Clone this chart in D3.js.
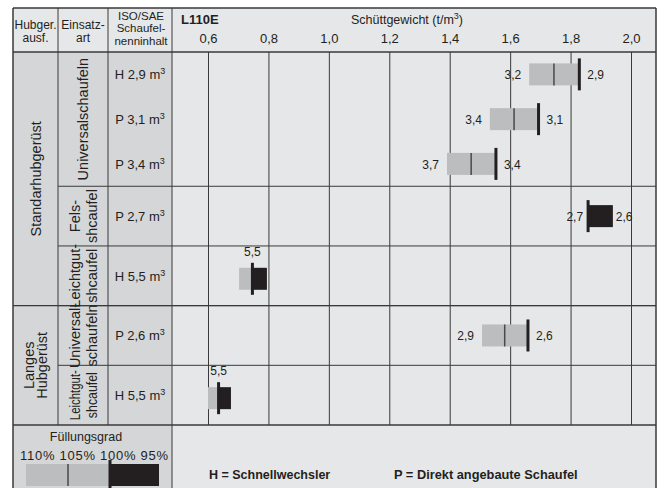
<!DOCTYPE html>
<html>
<head>
<meta charset="utf-8">
<script src="https://cdn.jsdelivr.net/npm/d3@7"></script>
<style>
  body { margin: 0; background: #fff; }
  text { font-family: "Liberation Sans", Arial, Helvetica, sans-serif; fill: #231f20; }
</style>
</head>
<body>
<div class="canvas"></div>
<script>
// bucket rows, top to bottom
const bucketTypes = ['H', 'P', 'P', 'P', 'H', 'P', 'H'];
const bucketSizes = ['2,9', '3,1', '3,4', '2,7', '5,5', '2,6', '5,5'];
// material density (t/m3) at each fill factor, null = not drawn
const fill110 = [1.663, 1.533, 1.391, null, 0.703, 1.507, 0.600];
const fill105 = [1.745, 1.613, 1.471, null, null, 1.582, null];
const fill100 = [1.829, 1.694, 1.553, 1.858, 0.747, 1.659, 0.635];
const fill95  = [null, null, null, 1.940, 0.795, null, 0.676];
// bucket volumes printed beside the bars
const leftLabels  = ['3,2', '3,4', '3,7', '2,7', null, '2,9', null];
const rightLabels = ['2,9', '3,1', '3,4', '2,6', null, '2,6', null];
const topLabels   = [null, null, null, null, '5,5', null, '5,5'];
// relative row heights
const rowSizes = [0.75, 0.75, 0.75, 1, 1, 1, 1];
// x ticks
const tickValues = [0.6, 0.8, 1.0, 1.2, 1.4, 1.6, 1.8, 2.0];
// legend
const fillSteps = [110, 105, 100, 95];
const frameGroups = [
  {lines: ['Standarhubgerüst'], from: 0, to: 4},
  {lines: ['Langes', 'Hubgerüst'], from: 5, to: 6}
];
const toolGroups = [
  {lines: ['Universalschaufeln'], from: 0, to: 2},
  {lines: ['Fels-', 'shcaufel'], from: 3, to: 3},
  {lines: ['Leichtgut-', 'shcaufel'], from: 4, to: 4},
  {lines: ['Universal-', 'schaufeln'], from: 5, to: 5},
  {lines: ['Leichtgut-', 'shcaufel'], from: 6, to: 6, squeeze: [50, 46]}
];

const W = 664, H = 488;
const xLeft = 13, xRight = 656, yTop = 8, headBottom = 52, tableBottom = 425;
const col1 = 58, col2 = 108, col3 = 172;

const dark = '#231f20', lightBar = '#bcbdbf', lineCol = '#3a3a3a';
const bgPlot = '#e6e7e8', bgSide = '#d5d6d8';

const svg = d3.select('.canvas')
  .append('svg')
    .attr('width', W)
    .attr('height', H);

// german decimal comma
const de = d3.formatLocale({decimal: ',', thousands: '.', grouping: [3], currency: ['', ' €']});
const fmt = de.format('.1f');

const x = d3.scaleLinear().domain([0.6, 2.0]).range([208, 631]);

// rows are stacked with their own heights
const rowStarts = [0, ...d3.cumsum(rowSizes)];
const y = d3.scaleLinear().domain([0, d3.sum(rowSizes)]).range([headBottom, tableBottom]);
const rowMid = i => y(rowStarts[i] + rowSizes[i] / 2);

// backgrounds
svg.append('rect').attr('x', xLeft).attr('y', yTop).attr('width', xRight - xLeft).attr('height', H - yTop).attr('fill', bgPlot);
svg.append('rect').attr('x', xLeft).attr('y', headBottom).attr('width', col3 - xLeft).attr('height', H - headBottom).attr('fill', bgSide);

// vertical grid lines
const grid = d3.axisBottom(x).tickValues(tickValues).tickSize(tableBottom - headBottom).tickFormat('');
svg.append('g')
  .attr('transform', `translate(0, ${headBottom})`)
  .call(grid)
  .call(g => g.select('.domain').remove())
  .selectAll('line').attr('stroke', lineCol);

// tick labels in the header
const xAxis = d3.axisTop(x).tickValues(tickValues).tickSize(0).tickPadding(0).tickFormat(fmt);
const xAxisGroup = svg.append('g')
  .attr('transform', `translate(0, 43)`)
  .call(xAxis)
  .call(g => g.select('.domain').remove());
xAxisGroup.attr('font-family', null).attr('font-size', null);
xAxisGroup.selectAll('text').attr('font-size', 13).attr('fill', dark);

// lines of the table
const hLine = (x1, x2, yy, w) => svg.append('line')
  .attr('x1', x1).attr('x2', x2).attr('y1', yy).attr('y2', yy)
  .attr('stroke', lineCol).attr('stroke-width', w || 1);
const vLine = (xx, y1, y2, w) => svg.append('line')
  .attr('x1', xx).attr('x2', xx).attr('y1', y1).attr('y2', y2)
  .attr('stroke', lineCol).attr('stroke-width', w || 1);

hLine(xLeft, xRight, headBottom, 1.5);
toolGroups.forEach(t => { if (t.from > 0) hLine(col1, xRight, y(rowStarts[t.from])); });
frameGroups.forEach(f => { if (f.from > 0) hLine(xLeft, xRight, y(rowStarts[f.from]), 1.3); });
hLine(xLeft, xRight, tableBottom, 1.5);
vLine(col1, yTop, tableBottom);
vLine(col2, yTop, tableBottom);
vLine(col3, yTop, H);
// outer frame
hLine(xLeft, xRight, yTop, 1.5);
vLine(xLeft, yTop, H, 1.5);
vLine(xRight, yTop, H, 1.5);

// header texts
const hdr = svg.append('g').attr('font-size', 12).attr('text-anchor', 'middle');
[['Hubger.', 'ausf.'], ['Einsatz-', 'art']].forEach((lines, i) => {
  const cx = i === 0 ? (xLeft + col1) / 2 : (col1 + col2) / 2;
  lines.forEach((l, j) => hdr.append('text').attr('x', cx).attr('y', 29 + j * 12.5).text(l));
});
['ISO/SAE', 'Schaufel-', 'nenninhalt'].forEach((l, j) =>
  hdr.append('text').attr('x', (col2 + col3) / 2 + 1).attr('y', 19.5 + j * 12.6)
    .attr('font-size', 11.5).text(l));
svg.append('text').attr('x', 181).attr('y', 24).attr('font-size', 13).attr('font-weight', 'bold').text('L110E');
svg.append('text').attr('x', 407).attr('y', 24).attr('font-size', 12.5).attr('text-anchor', 'middle')
  .text('Schüttgewicht (t/m')
  .call(t => t.append('tspan').attr('font-size', 9).attr('dy', -5).text('3'))
  .call(t => t.append('tspan').attr('dy', 5).text(')'));

// rotated group labels
function rotatedLabel(group, cx, size, spacing) {
  const cy = (y(rowStarts[group.from]) + y(rowStarts[group.to + 1])) / 2;
  const g = svg.append('g').attr('transform', `translate(${cx}, ${cy}) rotate(-90)`);
  const n = group.lines.length;
  group.lines.forEach((l, j) => {
    const t = g.append('text')
      .attr('x', 0)
      .attr('y', (j - (n - 1) / 2) * spacing)
      .attr('dy', '0.35em')
      .attr('text-anchor', 'middle')
      .attr('font-size', size)
      .text(l);
    if (group.squeeze) t.attr('textLength', group.squeeze[j]).attr('lengthAdjust', 'spacingAndGlyphs');
  });
}
frameGroups.forEach(f => rotatedLabel(f, (xLeft + col1) / 2, 14.5, 13.5));
toolGroups.forEach(t => rotatedLabel(t, (col1 + col2) / 2, 14.5, 17));

// bucket size labels
bucketTypes.forEach((type, i) => {
  svg.append('text')
    .attr('x', (col2 + col3) / 2)
    .attr('y', rowMid(i) + 5)
    .attr('text-anchor', 'middle')
    .attr('font-size', 13)
    .text(`${type} ${bucketSizes[i]} m`)
    .append('tspan').attr('font-size', 9).attr('dy', -5).text('3');
});

// bars
const barH = 22, tickH = 32;
const bars = svg.append('g');
bucketTypes.forEach((type, i) => {
  const cy = rowMid(i) + (topLabels[i] ? 3 : 0);
  if (fill110[i] != null) {
    bars.append('rect')
      .attr('x', x(fill110[i])).attr('y', cy - barH / 2)
      .attr('width', x(fill100[i]) - x(fill110[i])).attr('height', barH)
      .attr('fill', lightBar);
  }
  if (fill95[i] != null) {
    bars.append('rect')
      .attr('x', x(fill100[i])).attr('y', cy - barH / 2)
      .attr('width', x(fill95[i]) - x(fill100[i])).attr('height', barH)
      .attr('fill', dark);
  }
  if (fill105[i] != null) {
    bars.append('line')
      .attr('x1', x(fill105[i])).attr('x2', x(fill105[i]))
      .attr('y1', cy - barH / 2).attr('y2', cy + barH / 2)
      .attr('stroke', '#4a4a4a').attr('stroke-width', 1.5);
  }
  bars.append('line')
    .attr('x1', x(fill100[i])).attr('x2', x(fill100[i]))
    .attr('y1', cy - tickH / 2).attr('y2', cy + tickH / 2)
    .attr('stroke', dark).attr('stroke-width', 3);

  const lo = fill110[i] != null ? fill110[i] : fill100[i];
  const hi = fill95[i] != null ? fill95[i] : fill100[i];
  if (leftLabels[i]) {
    bars.append('text').attr('x', x(lo) - (fill110[i] != null ? 8 : 5)).attr('y', cy + 5)
      .attr('text-anchor', 'end').attr('font-size', 12).text(leftLabels[i]);
  }
  if (rightLabels[i]) {
    bars.append('text').attr('x', x(hi) + (fill95[i] != null ? 3 : 8)).attr('y', cy + 5)
      .attr('font-size', 12).text(rightLabels[i]);
  }
  if (topLabels[i]) {
    bars.append('text').attr('x', x(fill100[i])).attr('y', cy - tickH / 2 - 7)
      .attr('text-anchor', 'middle').attr('font-size', 12).text(topLabels[i]);
  }
});

// legend: fill factor
const lx = d3.scaleLinear().domain([110, 100, 95]).range([26, 110, 159]);
svg.append('text').attr('x', 86).attr('y', 441).attr('text-anchor', 'middle').attr('font-size', 12.5).text('Füllungsgrad');
svg.append('text').attr('x', 20).attr('y', 460).attr('font-size', 13)
  .attr('textLength', 148).attr('lengthAdjust', 'spacing')
  .text(fillSteps.map(d => d + '%').join(' '));
svg.append('rect').attr('x', lx(110)).attr('y', 464).attr('width', lx(100) - lx(110)).attr('height', 22).attr('fill', lightBar);
svg.append('rect').attr('x', lx(100)).attr('y', 464).attr('width', lx(95) - lx(100)).attr('height', 22).attr('fill', dark);
svg.append('line').attr('x1', lx(105)).attr('x2', lx(105)).attr('y1', 464).attr('y2', 486).attr('stroke', '#4a4a4a').attr('stroke-width', 1.5);
svg.append('line').attr('x1', lx(100)).attr('x2', lx(100)).attr('y1', 460).attr('y2', 492).attr('stroke', dark).attr('stroke-width', 3);

// legend: bucket mounting
svg.append('text').attr('x', 209).attr('y', 479).attr('font-size', 12.5).attr('font-weight', 'bold').text('H = Schnellwechsler');
svg.append('text').attr('x', 394).attr('y', 479).attr('font-size', 12.8).attr('font-weight', 'bold').text('P = Direkt angebaute Schaufel');
</script>
</body>
</html>
